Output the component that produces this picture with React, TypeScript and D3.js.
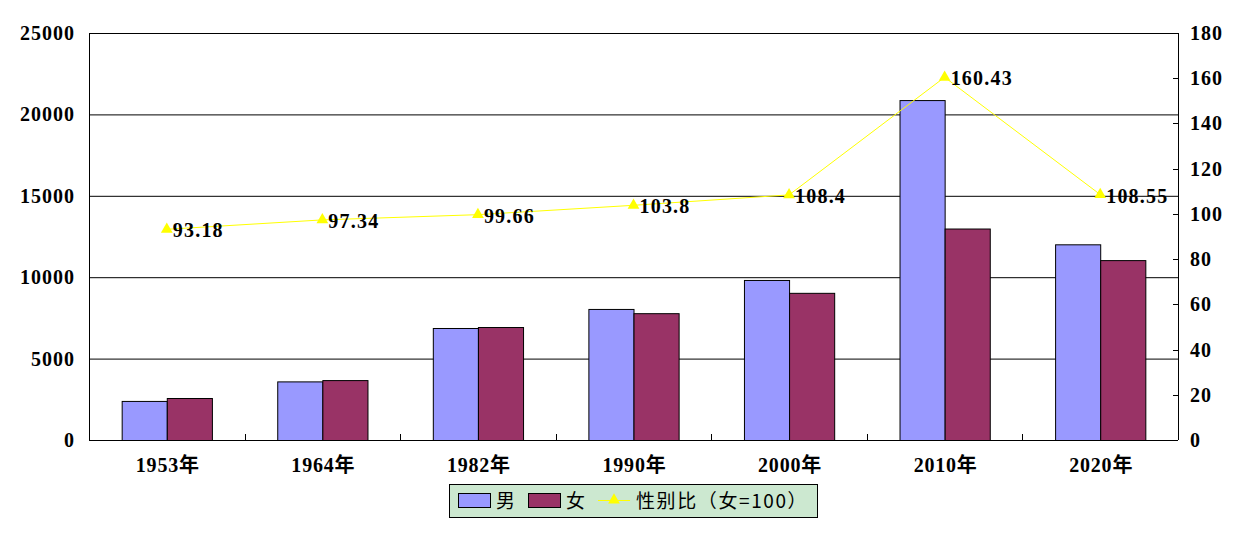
import * as d3 from "d3";
import { useEffect, useRef } from "react";

const years: string[] = ["1953年", "1964年", "1982年", "1990年", "2000年", "2010年", "2020年"];
const male: number[] = [2400, 3600, 6880, 8050, 9830, 20880, 12020];
const female: number[] = [2580, 3680, 6940, 7790, 9040, 12990, 11050];
const ratio: number[] = [93.18, 97.34, 99.66, 103.8, 108.4, 160.43, 108.55];
const ratioLabels: string[] = ["93.18", "97.34", "99.66", "103.8", "108.4", "160.43", "108.55"];
const leftTicks: number[] = [0, 5000, 10000, 15000, 20000, 25000];
const rightTicks: number[] = [0, 20, 40, 60, 80, 100, 120, 140, 160, 180];

const width = 1247;
const height = 533;
const marginTop = 33;
const marginRight = 69;
const marginBottom = 93;
const marginLeft = 89;
const serif = "'Liberation Serif', 'Noto Sans CJK SC', serif";

export default function App() {
  const svgRef = useRef<SVGSVGElement>(null);

  useEffect(() => {
    const svg = d3.select(svgRef.current);
    svg.selectAll("*").remove();

    const x = d3
      .scaleBand<string>()
      .domain(years)
      .range([marginLeft, width - marginRight])
      .paddingInner(0)
      .paddingOuter(0);
    const step = x.bandwidth();
    const barW = step * 0.29;

    const yL = d3.scaleLinear().domain([0, 25000]).range([height - marginBottom, marginTop]);
    const yR = d3.scaleLinear().domain([0, 180]).range([height - marginBottom, marginTop]);

    // grid lines
    svg
      .append("g")
      .selectAll("line")
      .data(leftTicks.slice(1))
      .enter()
      .append("line")
      .attr("x1", marginLeft)
      .attr("x2", width - marginRight)
      .attr("y1", (d) => yL(d) + 0.5)
      .attr("y2", (d) => yL(d) + 0.5)
      .attr("stroke", "#000")
      .attr("stroke-width", 1);

    // bars
    const center = (d: string) => (x(d) as number) + step / 2;
    svg
      .append("g")
      .selectAll("rect.m")
      .data(years)
      .enter()
      .append("rect")
      .attr("x", (d) => center(d) - barW + 0.5)
      .attr("y", (d, i) => yL(male[i]) + 0.5)
      .attr("width", barW)
      .attr("height", (d, i) => yL(0) - yL(male[i]))
      .attr("fill", "#9999FF")
      .attr("stroke", "#000");
    svg
      .append("g")
      .selectAll("rect.f")
      .data(years)
      .enter()
      .append("rect")
      .attr("x", (d) => center(d) + 0.5)
      .attr("y", (d, i) => yL(female[i]) + 0.5)
      .attr("width", barW)
      .attr("height", (d, i) => yL(0) - yL(female[i]))
      .attr("fill", "#993366")
      .attr("stroke", "#000");

    // axes lines
    const axes = svg.append("g").attr("stroke", "#000").attr("stroke-width", 1);
    axes
      .append("line")
      .attr("x1", marginLeft + 0.5)
      .attr("x2", marginLeft + 0.5)
      .attr("y1", marginTop)
      .attr("y2", height - marginBottom);
    axes
      .append("line")
      .attr("x1", width - marginRight + 0.5)
      .attr("x2", width - marginRight + 0.5)
      .attr("y1", marginTop)
      .attr("y2", height - marginBottom);
    axes
      .append("line")
      .attr("x1", marginLeft)
      .attr("x2", width - marginRight)
      .attr("y1", height - marginBottom + 0.5)
      .attr("y2", height - marginBottom + 0.5);
    // category ticks
    axes
      .selectAll("line.ct")
      .data(years.slice(1))
      .enter()
      .append("line")
      .attr("x1", (d) => Math.round(x(d) as number) + 0.5)
      .attr("x2", (d) => Math.round(x(d) as number) + 0.5)
      .attr("y1", height - marginBottom)
      .attr("y2", height - marginBottom - 6);
    // right ticks
    axes
      .selectAll("line.rt")
      .data(rightTicks)
      .enter()
      .append("line")
      .attr("x1", width - marginRight - 5)
      .attr("x2", width - marginRight)
      .attr("y1", (d) => Math.round(yR(d)) + 0.5)
      .attr("y2", (d) => Math.round(yR(d)) + 0.5);

    // tick labels
    svg
      .append("g")
      .selectAll("text")
      .data(leftTicks)
      .enter()
      .append("text")
      .attr("x", 75)
      .attr("y", (d) => yL(d))
      .attr("dy", "0.35em")
      .attr("text-anchor", "end")
      .attr("font-family", serif)
      .attr("font-weight", "bold")
      .attr("font-size", 20)
      .attr("letter-spacing", 1)
      .text((d) => d);
    svg
      .append("g")
      .selectAll("text")
      .data(rightTicks)
      .enter()
      .append("text")
      .attr("x", width - marginRight + 12)
      .attr("y", (d) => yR(d))
      .attr("dy", "0.35em")
      .attr("text-anchor", "start")
      .attr("font-family", serif)
      .attr("font-weight", "bold")
      .attr("font-size", 20)
      .attr("letter-spacing", 1)
      .text((d) => d);
    svg
      .append("g")
      .selectAll("text")
      .data(years)
      .enter()
      .append("text")
      .attr("x", (d) => center(d) + 1)
      .attr("y", 472)
      .attr("text-anchor", "middle")
      .attr("font-family", serif)
      .attr("font-weight", "bold")
      .attr("font-size", 20)
      .attr("letter-spacing", 0.8)
      .text((d) => d);

    // ratio line
    const line = d3
      .line<number>()
      .x((d, i) => center(years[i]))
      .y((d) => yR(d));
    svg
      .append("path")
      .datum(ratio)
      .attr("d", line)
      .attr("fill", "none")
      .attr("stroke", "#FFFF00")
      .attr("stroke-width", 1);
    const tri = d3.symbol().type(d3.symbolTriangle).size(60);
    svg
      .append("g")
      .selectAll("path")
      .data(ratio)
      .enter()
      .append("path")
      .attr("d", tri)
      .attr("transform", (d, i) => `translate(${center(years[i])},${yR(d)})`)
      .attr("fill", "#FFFF00");
    svg
      .append("g")
      .selectAll("text")
      .data(ratio)
      .enter()
      .append("text")
      .attr("x", (d, i) => center(years[i]) + 6)
      .attr("y", (d) => yR(d))
      .attr("dy", "0.4em")
      .attr("font-family", serif)
      .attr("font-weight", "bold")
      .attr("font-size", 20)
      .attr("letter-spacing", 1.2)
      .text((d, i) => ratioLabels[i]);

    // legend
    const lg = svg.append("g").attr("transform", "translate(449,484)");
    lg.append("rect")
      .attr("x", 0.5)
      .attr("y", 0.5)
      .attr("width", 368)
      .attr("height", 33)
      .attr("fill", "#CCE8D0")
      .attr("stroke", "#000");
    lg.append("rect").attr("x", 9.5).attr("y", 9.5).attr("width", 32).attr("height", 14).attr("fill", "#9999FF").attr("stroke", "#000");
    lg.append("rect").attr("x", 79.5).attr("y", 9.5).attr("width", 32).attr("height", 14).attr("fill", "#993366").attr("stroke", "#000");
    lg.append("line").attr("x1", 149).attr("x2", 181).attr("y1", 16.5).attr("y2", 16.5).attr("stroke", "#FFFF00");
    lg.append("path").attr("d", tri).attr("transform", "translate(165,16)").attr("fill", "#FFFF00");
    const legendText = [
      { x: 47, t: "男" },
      { x: 117, t: "女" },
      { x: 187, t: "性别比（女=100）" },
    ];
    lg.selectAll("text.l")
      .data(legendText)
      .enter()
      .append("text")
      .attr("x", (d) => d.x)
      .attr("y", 17)
      .attr("dy", "0.36em")
      .attr("font-family", "'Noto Sans CJK SC', sans-serif")
      .attr("font-size", 19)
      .attr("letter-spacing", 1.6)
      .text((d) => d.t);
  }, []);

  return (
    <svg
      ref={svgRef}
      width={width}
      height={height}
      style={{ position: "absolute", left: 0, top: 0, background: "#fff" }}
    />
  );
}
